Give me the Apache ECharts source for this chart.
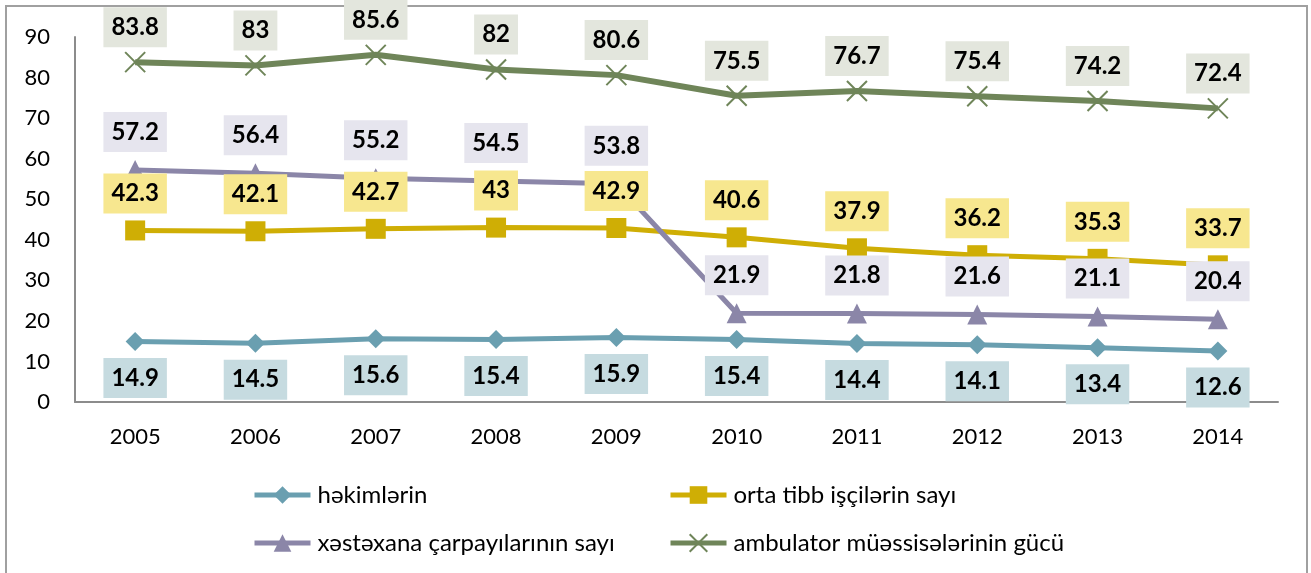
<!DOCTYPE html>
<html>
<head>
<meta charset="utf-8">
<style>
  html, body { margin: 0; padding: 0; background: #ffffff; }
  #chart { width: 1311px; height: 573px; }
</style>
<script src="https://cdn.jsdelivr.net/npm/echarts@6/dist/echarts.min.js"></script>
</head>
<body>
<div id="chart"></div>
<script>
// Years on the category axis
const years = ['2005', '2006', '2007', '2008', '2009', '2010', '2011', '2012', '2013', '2014'];

// Series values
const hekimlerin = [14.9, 14.5, 15.6, 15.4, 15.9, 15.4, 14.4, 14.1, 13.4, 12.6];
const ortaTibb = [42.3, 42.1, 42.7, 43, 42.9, 40.6, 37.9, 36.2, 35.3, 33.7];
const carpayilar = [57.2, 56.4, 55.2, 54.5, 53.8, 21.9, 21.8, 21.6, 21.1, 20.4];
const ambulator = [83.8, 83, 85.6, 82, 80.6, 75.5, 76.7, 75.4, 74.2, 72.4];

// Series names shown in the legend
const names = [
  'həkimlərin',
  'orta tibb işçilərin sayı',
  'xəstəxana çarpayılarının sayı',
  'ambulator müəssisələrinin gücü'
];

// Value axis range
const yMin = 0, yMax = 90, yStep = 10;

const FONT = 'Lato, "Noto Sans", sans-serif';

function boxLabel(bg, position, distance) {
  return {
    show: true,
    position: position,
    distance: distance,
    color: '#000000',
    fontFamily: FONT,
    fontWeight: 'bold',
    fontSize: 24,
    lineHeight: 24,
    backgroundColor: bg,
    padding: [8, 8, 8, 8]
  };
}

const chart = echarts.init(document.getElementById('chart'), null, { renderer: 'canvas' });

const legendPos = [
  { left: 247, top: 478 },
  { left: 663, top: 478 },
  { left: 247, top: 526 },
  { left: 663, top: 526 }
];

chart.setOption({
  backgroundColor: '#ffffff',
  animation: false,
  graphic: [{
    type: 'rect',
    shape: { x: 6, y: 6, width: 1301, height: 620 },
    style: { fill: 'none', stroke: '#a0a0a0', lineWidth: 2 },
    silent: true
  }],
  grid: { left: 75, right: 33, top: 37, bottom: 171 },
  legend: legendPos.map((p, i) => ({
    data: [names[i]],
    left: p.left,
    top: p.top,
    itemWidth: 56,
    itemHeight: 22,
    itemGap: 0,
    lineStyle: { width: 5 },
    textStyle: { color: '#000000', fontFamily: FONT, fontSize: 24, padding: [0, 0, 0, 2] }
  })),
  xAxis: {
    type: 'category',
    data: years,
    boundaryGap: true,
    axisLine: { show: true, lineStyle: { color: '#8c8c8c', width: 2 } },
    axisTick: { show: false },
    axisLabel: { color: '#000000', fontFamily: FONT, fontSize: 22, margin: 24 },
    splitLine: { show: false }
  },
  yAxis: {
    type: 'value',
    min: yMin,
    max: yMax,
    interval: yStep,
    axisLine: { show: true, lineStyle: { color: '#8c8c8c', width: 2 } },
    axisTick: { show: false },
    axisLabel: { color: '#000000', fontFamily: FONT, fontSize: 22, margin: 25 },
    splitLine: { show: false }
  },
  series: [
    {
      name: names[0],
      type: 'line',
      data: hekimlerin,
      symbol: 'diamond',
      symbolSize: 19,
      lineStyle: { color: '#6a9fb0', width: 5 },
      itemStyle: { color: '#6a9fb0' },
      label: boxLabel('#c6dbe0', 'bottom', 7)
    },
    {
      name: names[1],
      type: 'line',
      data: ortaTibb,
      symbol: 'rect',
      symbolSize: 20,
      lineStyle: { color: '#cfae05', width: 5 },
      itemStyle: { color: '#cfae05' },
      label: boxLabel('#f7e78f', 'top', 7)
    },
    {
      name: names[2],
      type: 'line',
      data: carpayilar,
      symbol: 'triangle',
      symbolSize: [20, 20],
      lineStyle: { color: '#8b86a8', width: 5 },
      itemStyle: { color: '#8b86a8' },
      label: boxLabel('#e6e5ee', 'top', 8)
    },
    {
      name: names[3],
      type: 'line',
      data: ambulator,
      symbol: 'path://M0,0L10,10M10,0L0,10',
      symbolSize: 20,
      lineStyle: { color: '#6f8559', width: 6 },
      itemStyle: { color: '#6f8559', borderColor: '#6f8559', borderWidth: 2 },
      label: boxLabel('#e3e6dd', 'top', 4)
    }
  ]
});
</script>
</body>
</html>
